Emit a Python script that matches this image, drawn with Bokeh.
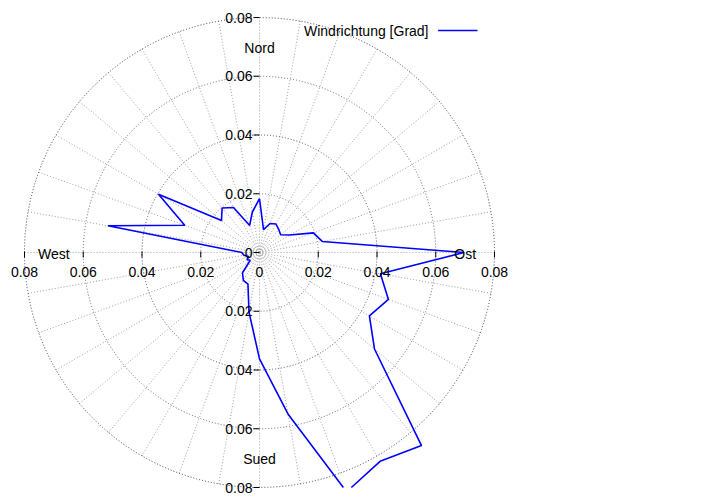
import numpy as np
from bokeh.plotting import figure
from bokeh.models import Range1d
from bokeh.core.properties import value
from bokeh.embed import file_html
from bokeh.resources import INLINE

# ---- data ----
direction_deg = list(range(0, 361, 10))
frequency = [0.0183, 0.0079, 0.0105, 0.0112, 0.0102, 0.0094, 0.0119, 0.0195,
             0.0217, 0.0696, 0.0418, 0.0467, 0.0432, 0.0511, 0.0858, 0.0821,
             0.0867, 0.0558, 0.0362, 0.0206, 0.0115, 0.0110, 0.0090, 0.0041,
             0.0049, 0.0039, 0.0054, 0.0060, 0.0524, 0.0271, 0.0397, 0.0169,
             0.0198, 0.0177, 0.0098, 0.0140, 0.0183]
ring_values = [0.02, 0.04, 0.06, 0.08]
tick_values = [0.02, 0.04, 0.06, 0.08]
tick_labels = ["0.02", "0.04", "0.06", "0.08"]
spoke_deg = list(range(0, 360, 10))
compass_labels = ["Nord", "Ost", "Sued", "West"]
compass_deg = [0, 90, 180, 270]
compass_r = 0.07
series_name = "Windrichtung [Grad]"
RMAX = 0.08

# ---- layout ----
S = 2937.5  # pixels per data unit
W, H = 704, 496
CX, CY = 259, 252  # centre in figure pixels
def px(n):
    return n / S

p = figure(width=W, height=H, output_backend="svg", toolbar_location=None,
           x_range=Range1d(-CX / S, (W - CX) / S),
           y_range=Range1d(-(H - CY) / S, CY / S))
p.min_border = 0
p.axis.visible = False
p.grid.visible = False
p.outline_line_color = None
p.background_fill_color = "white"
p.border_fill_color = "white"

FONT = value("Liberation Sans")
FS = "14px"

# spokes
th = np.radians(spoke_deg)
p.multi_line(xs=[[0, RMAX * np.sin(t)] for t in th],
             ys=[[0, RMAX * np.cos(t)] for t in th],
             line_color="#a0a0a0", line_width=1, line_dash="1 2")

# rings
p.circle(x=[0] * len(ring_values), y=[0] * len(ring_values), radius=ring_values,
         fill_color=None, line_color=["#707090", "#505080", "#606088", "#3a3a78"],
         line_width=1, line_dash="1 2")

# ---- data line, clipped to the square [-RMAX, RMAX]^2 ----
b = np.radians(direction_deg)
r = np.array(frequency)
xs = r * np.sin(b)
ys = r * np.cos(b)

def clip(x0, y0, x1, y1, lo, hi):
    t0, t1 = 0.0, 1.0
    dx, dy = x1 - x0, y1 - y0
    for pp, q in ((-dx, x0 - lo), (dx, hi - x0), (-dy, y0 - lo), (dy, hi - y0)):
        if pp == 0:
            if q < 0:
                return None
        else:
            t = q / pp
            if pp < 0:
                t0 = max(t0, t)
            else:
                t1 = min(t1, t)
    if t0 > t1:
        return None
    return (x0 + t0 * dx, y0 + t0 * dy, x0 + t1 * dx, y0 + t1 * dy, t0 == 0.0)

lines_x, lines_y = [], []
prev_end_ok = False
for i in range(len(xs) - 1):
    c = clip(xs[i], ys[i], xs[i + 1], ys[i + 1], -RMAX, RMAX)
    if c is None:
        prev_end_ok = False
        continue
    ax, ay, bx, by, start_inside = c
    if start_inside and prev_end_ok and lines_x:
        lines_x[-1].append(bx); lines_y[-1].append(by)
    else:
        lines_x.append([ax, bx]); lines_y.append([ay, by])
    prev_end_ok = abs(bx - xs[i + 1]) < 1e-12 and abs(by - ys[i + 1]) < 1e-12

p.multi_line(xs=lines_x, ys=lines_y, line_color="#0000ff", line_width=1.6)

# ---- radial axis ticks ----
tk = px(6)
vt = [0] + tick_values + [-v for v in tick_values]
p.multi_line(xs=[[-tk, 0] for _ in vt], ys=[[v, v] for v in vt],
             line_color="black", line_width=1)
ht = tick_values + [-v for v in tick_values]
p.multi_line(xs=[[v, v] for v in ht], ys=[[px(1), px(-5)] for _ in ht],
             line_color="black", line_width=1)

# vertical axis labels
p.text(x=[-px(7)] * (2 * len(tick_values) + 1),
       y=[0] + tick_values + [-v for v in tick_values],
       text=["0"] + tick_labels + tick_labels,
       text_align="right", text_baseline="middle",
       text_font=FONT, text_font_size=FS, text_color="black")
# horizontal axis labels
p.text(x=[0] + tick_values + [-v for v in tick_values],
       y=[-px(19)] * (2 * len(tick_values) + 1),
       text=["0"] + tick_labels + tick_labels,
       text_align="center", text_baseline="middle",
       text_font=FONT, text_font_size=FS, text_color="black")

# compass labels
cb = np.radians(compass_deg)
p.text(x=list(compass_r * np.sin(cb)), y=list(compass_r * np.cos(cb) - px(1)),
       text=compass_labels, text_align="center", text_baseline="middle",
       text_font=FONT, text_font_size=FS, text_color="black")

# legend
p.text(x=[px(169)], y=[px(222)], text=[series_name], text_align="right",
       text_baseline="middle", text_font=FONT, text_font_size=FS, text_color="black")
p.line(x=[px(178.5), px(218)], y=[px(222), px(222)], line_color="#0000ff", line_width=1.6)

open("out.html", "w").write(file_html(p, INLINE))
